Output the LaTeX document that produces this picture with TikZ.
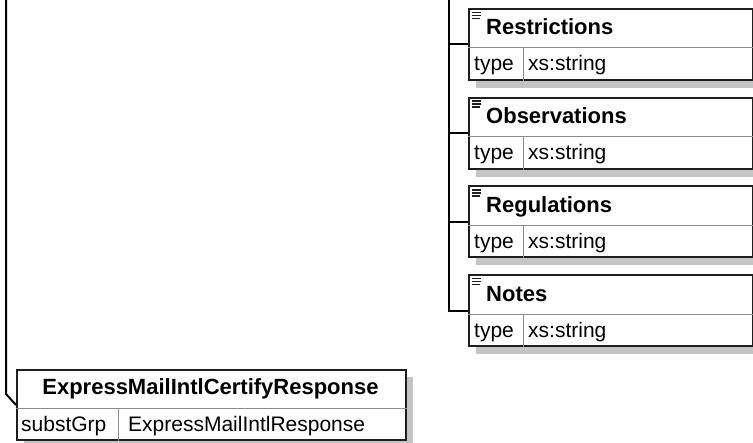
\documentclass[tikz,border=0pt]{standalone}
\usepackage{fontspec}
\setmainfont{Liberation Sans}
\usetikzlibrary{positioning}

\definecolor{boxline}{HTML}{1E1E1E}
\definecolor{sepgray}{HTML}{8C8C8C}
\definecolor{shadowgray}{HTML}{C4C4C4}

\tikzset{
    elembox/.style={draw=boxline, line width=2pt, fill=white, inner sep=0pt, anchor=north west},
    titletext/.style={font=\fontsize{22}{26}\selectfont\bfseries, inner sep=0pt},
    rowtext/.style={font=\fontsize{21}{25}\selectfont, inner sep=0pt, anchor=base west},
    sepline/.style={draw=sepgray, line width=1pt},
    conn/.style={draw=black, line width=2pt},
    shade/.style={fill=shadowgray},
}

\begin{document}
\begin{tikzpicture}[x=1pt, y=-1pt]
    \useasboundingbox (0,0) rectangle (753,443);

    % child elements on the right
    \coordinate (trunk) at (449,0);
    \foreach \nm/\lbl [count=\i] in {restr/Restrictions, obs/Observations, reg/Regulations, notes/Notes} {
        \pgfmathsetmacro\ytop{8+(\i-1)*88.67}
        \fill[shade] (476,\ytop+72) rectangle (760,\ytop+80);
        \node[elembox, minimum width=284pt, minimum height=71pt] (\nm) at (468,\ytop) {};
        \draw[sepline] ([yshift=-40pt]\nm.north west) -- ([yshift=-40pt]\nm.north east);
        \draw[sepline] ([xshift=55pt,yshift=-40pt]\nm.north west) -- ([xshift=55pt]\nm.south west);
        \foreach \dy/\len in {4.5/9,7.5/9,10.5/8}
            \draw[boxline, line width=1.6pt] (472,\ytop+\dy) -- ++(\len,0);
        \node[titletext, anchor=base west] (\nm-title) at (486,\ytop+27) {\lbl};
        \node[rowtext] (\nm-key) at (474,\ytop+63) {type};
        \node[rowtext] (\nm-type) at (528,\ytop+63) {xs:string};
        \draw[conn] (trunk |- \nm.west) -- (\nm.west);
    }
    \draw[conn] (trunk) |- (notes.west);

    % substitution group element
    \coordinate (leftfree) at (6,0);
    \fill[shade] (406,377) rectangle (413,447);
    \fill[shade] (24,440) rectangle (413,447);
    \node[elembox, minimum width=389pt, minimum height=70pt] (certify) at (16,369) {};
    \draw[sepline] ([yshift=-40pt]certify.north west) -- ([yshift=-40pt]certify.north east);
    \draw[sepline] ([xshift=102pt,yshift=-40pt]certify.north west) -- ([xshift=102pt]certify.south west);
    \node[titletext, anchor=base] (certify-title) at (210.5,395) {ExpressMailIntlCertifyResponse};
    \node[rowtext] (certify-key) at (21,432) {substGrp};
    \node[rowtext] (certify-grp) at (128,432) {ExpressMailIntlResponse};
    \draw[conn] (leftfree) -- ++(0,394) -- (certify.west);

\end{tikzpicture}
\end{document}
